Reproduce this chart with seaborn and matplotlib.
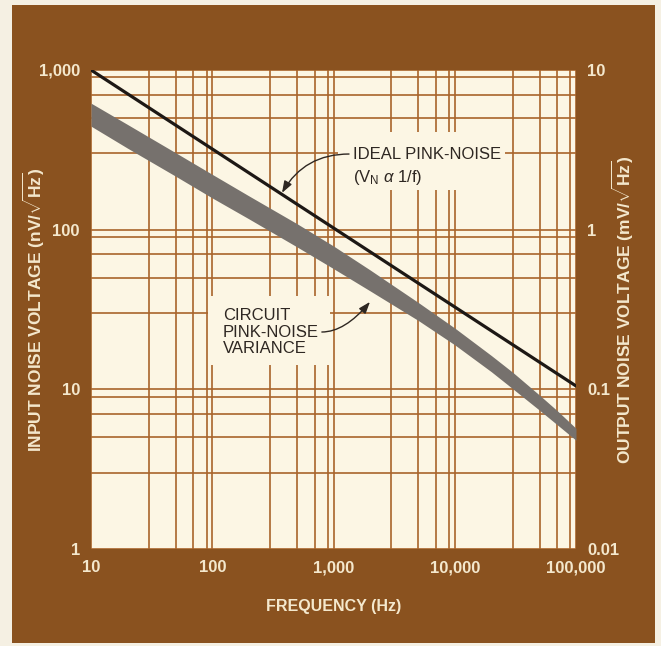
import matplotlib
matplotlib.use("Agg")
import matplotlib.pyplot as plt
from matplotlib.patches import Rectangle
from matplotlib.ticker import FixedLocator, LogLocator, NullFormatter
import pandas as pd
import seaborn as sns

# data
freq = [10, 20, 50, 100, 200, 500, 1000, 2000, 5000, 10000, 20000, 30000, 50000, 70000, 100000]
band_upper = [620, 456, 303, 222, 163, 109, 79, 56, 35, 24.2, 16.3, 12.8, 9.2, 7.35, 5.7]
band_lower = [445, 324, 216, 158, 117, 78, 57, 41.4, 27.0, 19.0, 12.9, 10.1, 7.4, 6.0, 4.8]
ideal_freq = [10, 100000]
ideal_volt = [1000, 10.5]

x_ticks = [10, 100, 1000, 10000, 100000]
x_labels = ["10", "100", "1,000", "10,000", "100,000"]
y_ticks = [1, 10, 100, 1000]
y_labels = ["1", "10", "100", "1,000"]
y2_ticks = [0.01, 0.1, 1, 10]
y2_labels = ["0.01", "0.1", "1", "10"]

BROWN = "#8A521F"
GRID = "#A9642B"
PAPER = "#FCF6E4"
OUTER = "#F5F0E3"
LABEL = "#F4E8CD"
INK = "#2E2722"

sns.set_style("white")
plt.rcParams["font.family"] = ["Liberation Sans", "DejaVu Sans"]
plt.rcParams["mathtext.fontset"] = "custom"
plt.rcParams["mathtext.rm"] = "Liberation Sans"
plt.rcParams["mathtext.it"] = "Liberation Sans:italic"
plt.rcParams["mathtext.bf"] = "Liberation Sans:bold"

fig = plt.figure(figsize=(6.61, 6.46), dpi=100, facecolor=OUTER)
fig.patches.append(Rectangle((12 / 661, 3 / 646), 643 / 661, 638 / 646,
                             transform=fig.transFigure, facecolor=BROWN,
                             edgecolor="none", zorder=-10))

ax = fig.add_axes([91 / 661, 97 / 646, 485 / 661, 479 / 646])
ax.set_facecolor(PAPER)
ax.set_xscale("log")
ax.set_yscale("log")

df = pd.DataFrame({"freq": freq, "upper": band_upper, "lower": band_lower})
ax.fill_between(df["freq"], df["lower"], df["upper"], color="#76716d",
                linewidth=0, zorder=2)
sns.lineplot(x=ideal_freq, y=ideal_volt, ax=ax, color="#1d1815",
             linewidth=2.3, zorder=3)

ax.set_xlim(10, 100000)
ax.set_ylim(1, 1000)

ax.xaxis.set_major_locator(FixedLocator(x_ticks))
ax.set_xticklabels(x_labels)
ax.yaxis.set_major_locator(FixedLocator(y_ticks))
ax.set_yticklabels(y_labels)
for axis in (ax.xaxis, ax.yaxis):
    axis.set_minor_locator(LogLocator(base=10, subs=(3, 5, 7, 9), numticks=20))
    axis.set_minor_formatter(NullFormatter())

ax.set_axisbelow(True)
ax.grid(True, which="both", color=GRID, linewidth=1.2)
ax.tick_params(which="both", length=0, colors=LABEL, labelsize=12, pad=8)
for lab in ax.get_xticklabels() + ax.get_yticklabels():
    lab.set_fontweight("bold")
for sp in ax.spines.values():
    sp.set_visible(False)

ax.set_xlabel("FREQUENCY (Hz)", color=LABEL, fontsize=11.5, fontweight="bold")
ax.xaxis.set_label_coords(0.5, -0.105)
ax.set_ylabel(r"INPUT NOISE VOLTAGE (nV/$\sqrt{\mathbf{Hz}}$)", color=LABEL,
              fontsize=12.5, fontweight="bold")
ax.yaxis.set_label_coords(-0.09, 0.5)

ax2 = ax.twinx()
ax2.set_yscale("log")
ax2.set_ylim(0.01, 10)
ax2.yaxis.set_major_locator(FixedLocator(y2_ticks))
ax2.set_yticklabels(y2_labels)
ax2.yaxis.set_minor_formatter(NullFormatter())
ax2.tick_params(which="both", length=0, colors=LABEL, labelsize=12, pad=8)
for lab in ax2.get_yticklabels():
    lab.set_fontweight("bold")
for sp in ax2.spines.values():
    sp.set_visible(False)
ax2.set_ylabel(r"OUTPUT NOISE VOLTAGE (mV/$\sqrt{\mathbf{Hz}}$)", color=LABEL,
               fontsize=12.5, fontweight="bold")
ax2.yaxis.set_label_coords(1.07, 0.5)

# masks that break the grid behind the labels
ax.add_patch(Rectangle((0.509, 0.7495), 0.344, 0.121, transform=ax.transAxes,
                       facecolor=PAPER, edgecolor="none", zorder=1.5))
ax.add_patch(Rectangle((0.241, 0.384), 0.2515, 0.144, transform=ax.transAxes,
                       facecolor=PAPER, edgecolor="none", zorder=1.5))

ax.text(0.540, 0.8246, "IDEAL PINK-NOISE", transform=ax.transAxes, ha="left",
        va="center", fontsize=12, color=INK, zorder=4)
ax.text(0.540, 0.7766, r"(V$_\mathregular{N}$ $\alpha$ 1/f)", transform=ax.transAxes,
        ha="left", va="center", fontsize=12, color=INK, zorder=4)
ax.annotate("", xy=(376, 170), xycoords="data", xytext=(0.532, 0.8246),
            textcoords="axes fraction",
            arrowprops=dict(arrowstyle="-|>,head_length=0.7,head_width=0.25",
                            color=INK, lw=1.0, shrinkA=0, shrinkB=0,
                            connectionstyle="angle3,angleA=0,angleB=60"),
            zorder=4)

ax.text(0.272, 0.453, "CIRCUIT\nPINK-NOISE\nVARIANCE", transform=ax.transAxes,
        ha="left", va="center", fontsize=12, color=INK, linespacing=1.1,
        zorder=4)
ax.annotate("", xy=(2000, 35.3), xycoords="data", xytext=(0.476, 0.453),
            textcoords="axes fraction",
            arrowprops=dict(arrowstyle="-|>,head_length=0.7,head_width=0.25",
                            color=INK, lw=1.0, shrinkA=0, shrinkB=0,
                            connectionstyle="angle3,angleA=0,angleB=50"),
            zorder=4)

fig.savefig("out.png", dpi=100, facecolor=OUTER)
